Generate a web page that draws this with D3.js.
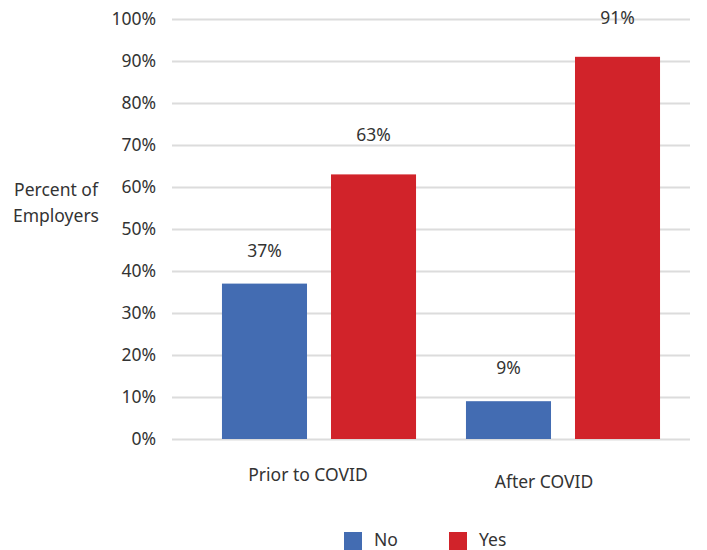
<!DOCTYPE html>
<html>
<head>
<meta charset="utf-8">
<script src="https://cdn.jsdelivr.net/npm/d3@7"></script>
<style>
  html, body { margin: 0; padding: 0; background: #fff; }
  svg text { font-family: "Noto Sans", "Open Sans", sans-serif; fill: #333; }
</style>
</head>
<body>
<svg id="chart" width="707" height="550"></svg>
<script>
// Share of employers, by period and answer
const categories = ["Prior to COVID", "After COVID"];
const seriesNames = ["No", "Yes"];
const noValues = [37, 9];
const yesValues = [63, 91];
const seriesColors = ["#436cb2", "#d1232a"];
const yTicks = [0, 10, 20, 30, 40, 50, 60, 70, 80, 90, 100];
const yTitle = ["Percent of", "Employers"];

const FS = 17.5;
const svg = d3.select("#chart");
const plot = { left: 172, right: 690, top: 19, bottom: 439 };

const y = d3.scaleLinear().domain([0, 100]).range([plot.bottom, plot.top]);
const x0 = d3.scaleBand().domain(categories).range([197, 685]).paddingInner(0).paddingOuter(0);
const x1 = d3.scaleBand().domain(seriesNames).range([0, x0.bandwidth()]).paddingInner(0.22).paddingOuter(0.229);

// gridlines + tick labels
const yAxis = d3.axisLeft(y).tickValues(yTicks).tickSize(-(plot.right - plot.left)).tickFormat(d => d + "%").tickPadding(16);
const gy = svg.append("g").attr("transform", `translate(${plot.left},0)`).call(yAxis);
gy.select(".domain").remove();
gy.selectAll(".tick line").attr("stroke", "#dcdcdc").attr("stroke-width", 2);
gy.selectAll(".tick text").attr("font-size", FS).attr("font-family", null).style("fill", "#333");

// axis title
svg.append("text").attr("text-anchor", "middle").attr("font-size", FS)
  .selectAll("tspan").data(yTitle).join("tspan")
  .attr("x", 56).attr("y", (d, i) => 196 + i * 26).text(d => d);

// bars
const rows = categories.map((c, i) => ({ cat: c, vals: [noValues[i], yesValues[i]] }));
const groups = svg.selectAll("g.grp").data(rows).join("g").attr("class", "grp")
  .attr("transform", d => `translate(${x0(d.cat)},0)`);
groups.selectAll("rect").data(d => d.vals.map((v, j) => ({ key: seriesNames[j], v, j })))
  .join("rect")
  .attr("x", d => x1(d.key)).attr("width", x1.bandwidth())
  .attr("y", d => y(d.v)).attr("height", d => y(0) - y(d.v))
  .attr("fill", d => seriesColors[d.j]);
const labelGap = [27, 33];
groups.selectAll("text.val").data(d => d.vals.map((v, j) => ({ key: seriesNames[j], v, j })))
  .join("text").attr("class", "val")
  .attr("x", d => x1(d.key) + x1.bandwidth() / 2).attr("y", d => y(d.v) - labelGap[d.j])
  .attr("text-anchor", "middle").attr("font-size", FS).text(d => d.v + "%");

// category labels
const catDx = [-11, -19];
const catY = [481, 488];
svg.selectAll("text.cat").data(categories).join("text").attr("class", "cat")
  .attr("x", (d, i) => x0(d) + x0.bandwidth() / 2 + catDx[i])
  .attr("y", (d, i) => catY[i]).attr("text-anchor", "middle").attr("font-size", FS).text(d => d);

// legend
const legX = [344, 449];
const leg = svg.selectAll("g.leg").data(seriesNames).join("g").attr("class", "leg")
  .attr("transform", (d, i) => `translate(${legX[i]},532)`);
leg.append("rect").attr("width", 18).attr("height", 18).attr("fill", (d, i) => seriesColors[i]);
leg.append("text").attr("x", 30).attr("y", 14).attr("font-size", FS).text(d => d);
</script>
</body>
</html>
